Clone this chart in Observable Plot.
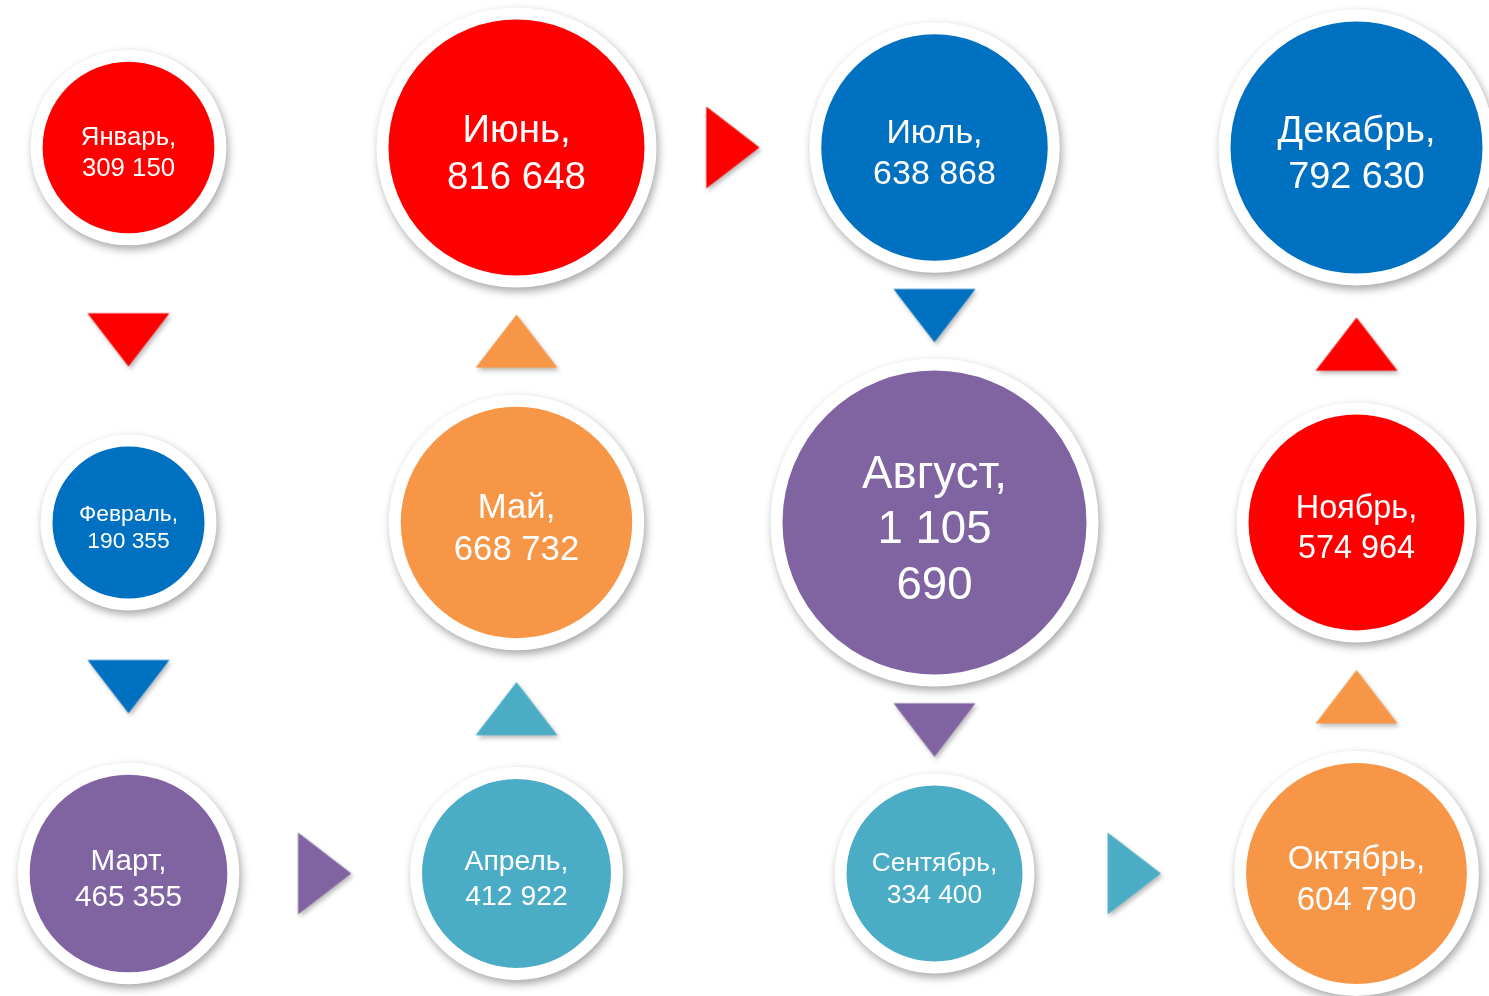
<!DOCTYPE html>
<html><head><meta charset="utf-8">
<script src="https://cdn.jsdelivr.net/npm/d3@7"></script>
<script src="https://cdn.jsdelivr.net/npm/@observablehq/plot@0.6"></script>
<style>
html,body{margin:0;padding:0;background:#fff;overflow:hidden;}
</style></head><body><div id="chart"></div>
<script>
// Data
const months = ["Январь","Февраль","Март","Апрель","Май","Июнь","Июль","Август","Сентябрь","Октябрь","Ноябрь","Декабрь"];
const values = [309150,190355,465355,412922,668732,816648,638868,1105690,334400,604790,574964,792630];
const palette = ["#FF0000","#0070C0","#8064A2","#4BACC6","#F79646"];

// Serpentine layout derived from month order: 4 columns x 3 rows
function gridPos(i) {
  const col = Math.floor(i / 3), k = i % 3;
  const row = col % 2 === 0 ? k : 2 - k;
  return {col, row};
}
const fmt = d3.formatLocale({decimal: ",", thousands: " ", grouping: [3], currency: ["", ""]}).format(",d");
function label(m, v) {
  let s = fmt(v);
  if (v >= 1e6) { const j = s.lastIndexOf(" "); s = s.slice(0, j) + "\n" + s.slice(j + 1); }
  return m + ",\n" + s;
}
const ring = 12;
const rRange = [76, 152];
const rColored = d3.scaleLinear().domain(d3.extent(values)).range(rRange);
const xOpts = {type: "linear", domain: [0, 1, 2, 3], range: [128, 516, 934, 1356], axis: null};
const yOpts = {type: "linear", domain: [0, 1, 2], range: [147, 522, 873], axis: null};
const xS = Plot.scale({x: xOpts}), yS = Plot.scale({y: yOpts});

const circles = months.map((m, i) => ({
  month: m, value: values[i], ...gridPos(i),
  color: palette[i % 5], label: label(m, values[i]),
  fs: 0.3 * rColored(values[i])
}));
// Each arrow sits centred in the gap between two consecutive circles
const arrows = d3.range(months.length - 1).map(i => {
  const a = circles[i], b = circles[i + 1];
  const ra = rColored(a.value), rb = rColored(b.value);
  const dir = b.row > a.row ? "down" : b.row < a.row ? "up" : "right";
  let col = a.col, row = a.row;
  if (dir === "right") {
    const px = (xS.apply(a.col) + ra + xS.apply(b.col) - rb) / 2;
    col = xS.invert(px);
  } else {
    const sgn = dir === "down" ? 1 : -1;
    const py = (yS.apply(a.row) + sgn * ra + yS.apply(b.row) - sgn * rb) / 2;
    row = yS.invert(py);
  }
  return {col, row, dir, color: palette[i % 5]};
});

function tri(dir) {
  return {draw(ctx, size) {
    const r = Math.sqrt(size / Math.PI), h = 1.3 * r;
    if (dir === "down") { ctx.moveTo(-r, -h/2); ctx.lineTo(r, -h/2); ctx.lineTo(0, h/2); }
    else if (dir === "up") { ctx.moveTo(0, -h/2); ctx.lineTo(r, h/2); ctx.lineTo(-r, h/2); }
    else { ctx.moveTo(-h/2, -r); ctx.lineTo(h/2, 0); ctx.lineTo(-h/2, r); }
    ctx.closePath();
  }};
}

const plot = Plot.plot({
  width: 1489, height: 996,
  margin: 0,
  x: xOpts,
  y: yOpts,
  r: {type: "linear", domain: d3.extent(values), range: rRange.map(v => v + ring / 2)},
  marks: [
    ...["down","up","right"].map(dir => Plot.dot(arrows.filter(d => d.dir === dir), {
      x: "col", y: "row", r: 41, symbol: tri(dir), fill: d => d.color, stroke: "none"
    })),
    Plot.dot(circles, {
      x: "col", y: "row", r: d => d.value, fill: d => d.color,
      stroke: "white", strokeWidth: ring
    }),
    Plot.text(circles, {
      x: "col", y: "row", text: d => d.label, fill: "white",
      fontSize: d => d.fs, lineHeight: 1.22,
      fontFamily: "Liberation Sans, Arial, sans-serif", dy: 3
    })
  ]
});
d3.select(plot).selectAll('g[aria-label="dot"]').each(function(d, i) {
  this.style.filter = i < 3
    ? "drop-shadow(2px 3px 2px rgba(0,0,0,0.25))"
    : "drop-shadow(2px 4px 4px rgba(0,0,0,0.35))";
});
document.getElementById("chart").appendChild(plot);
</script>
</body></html>
